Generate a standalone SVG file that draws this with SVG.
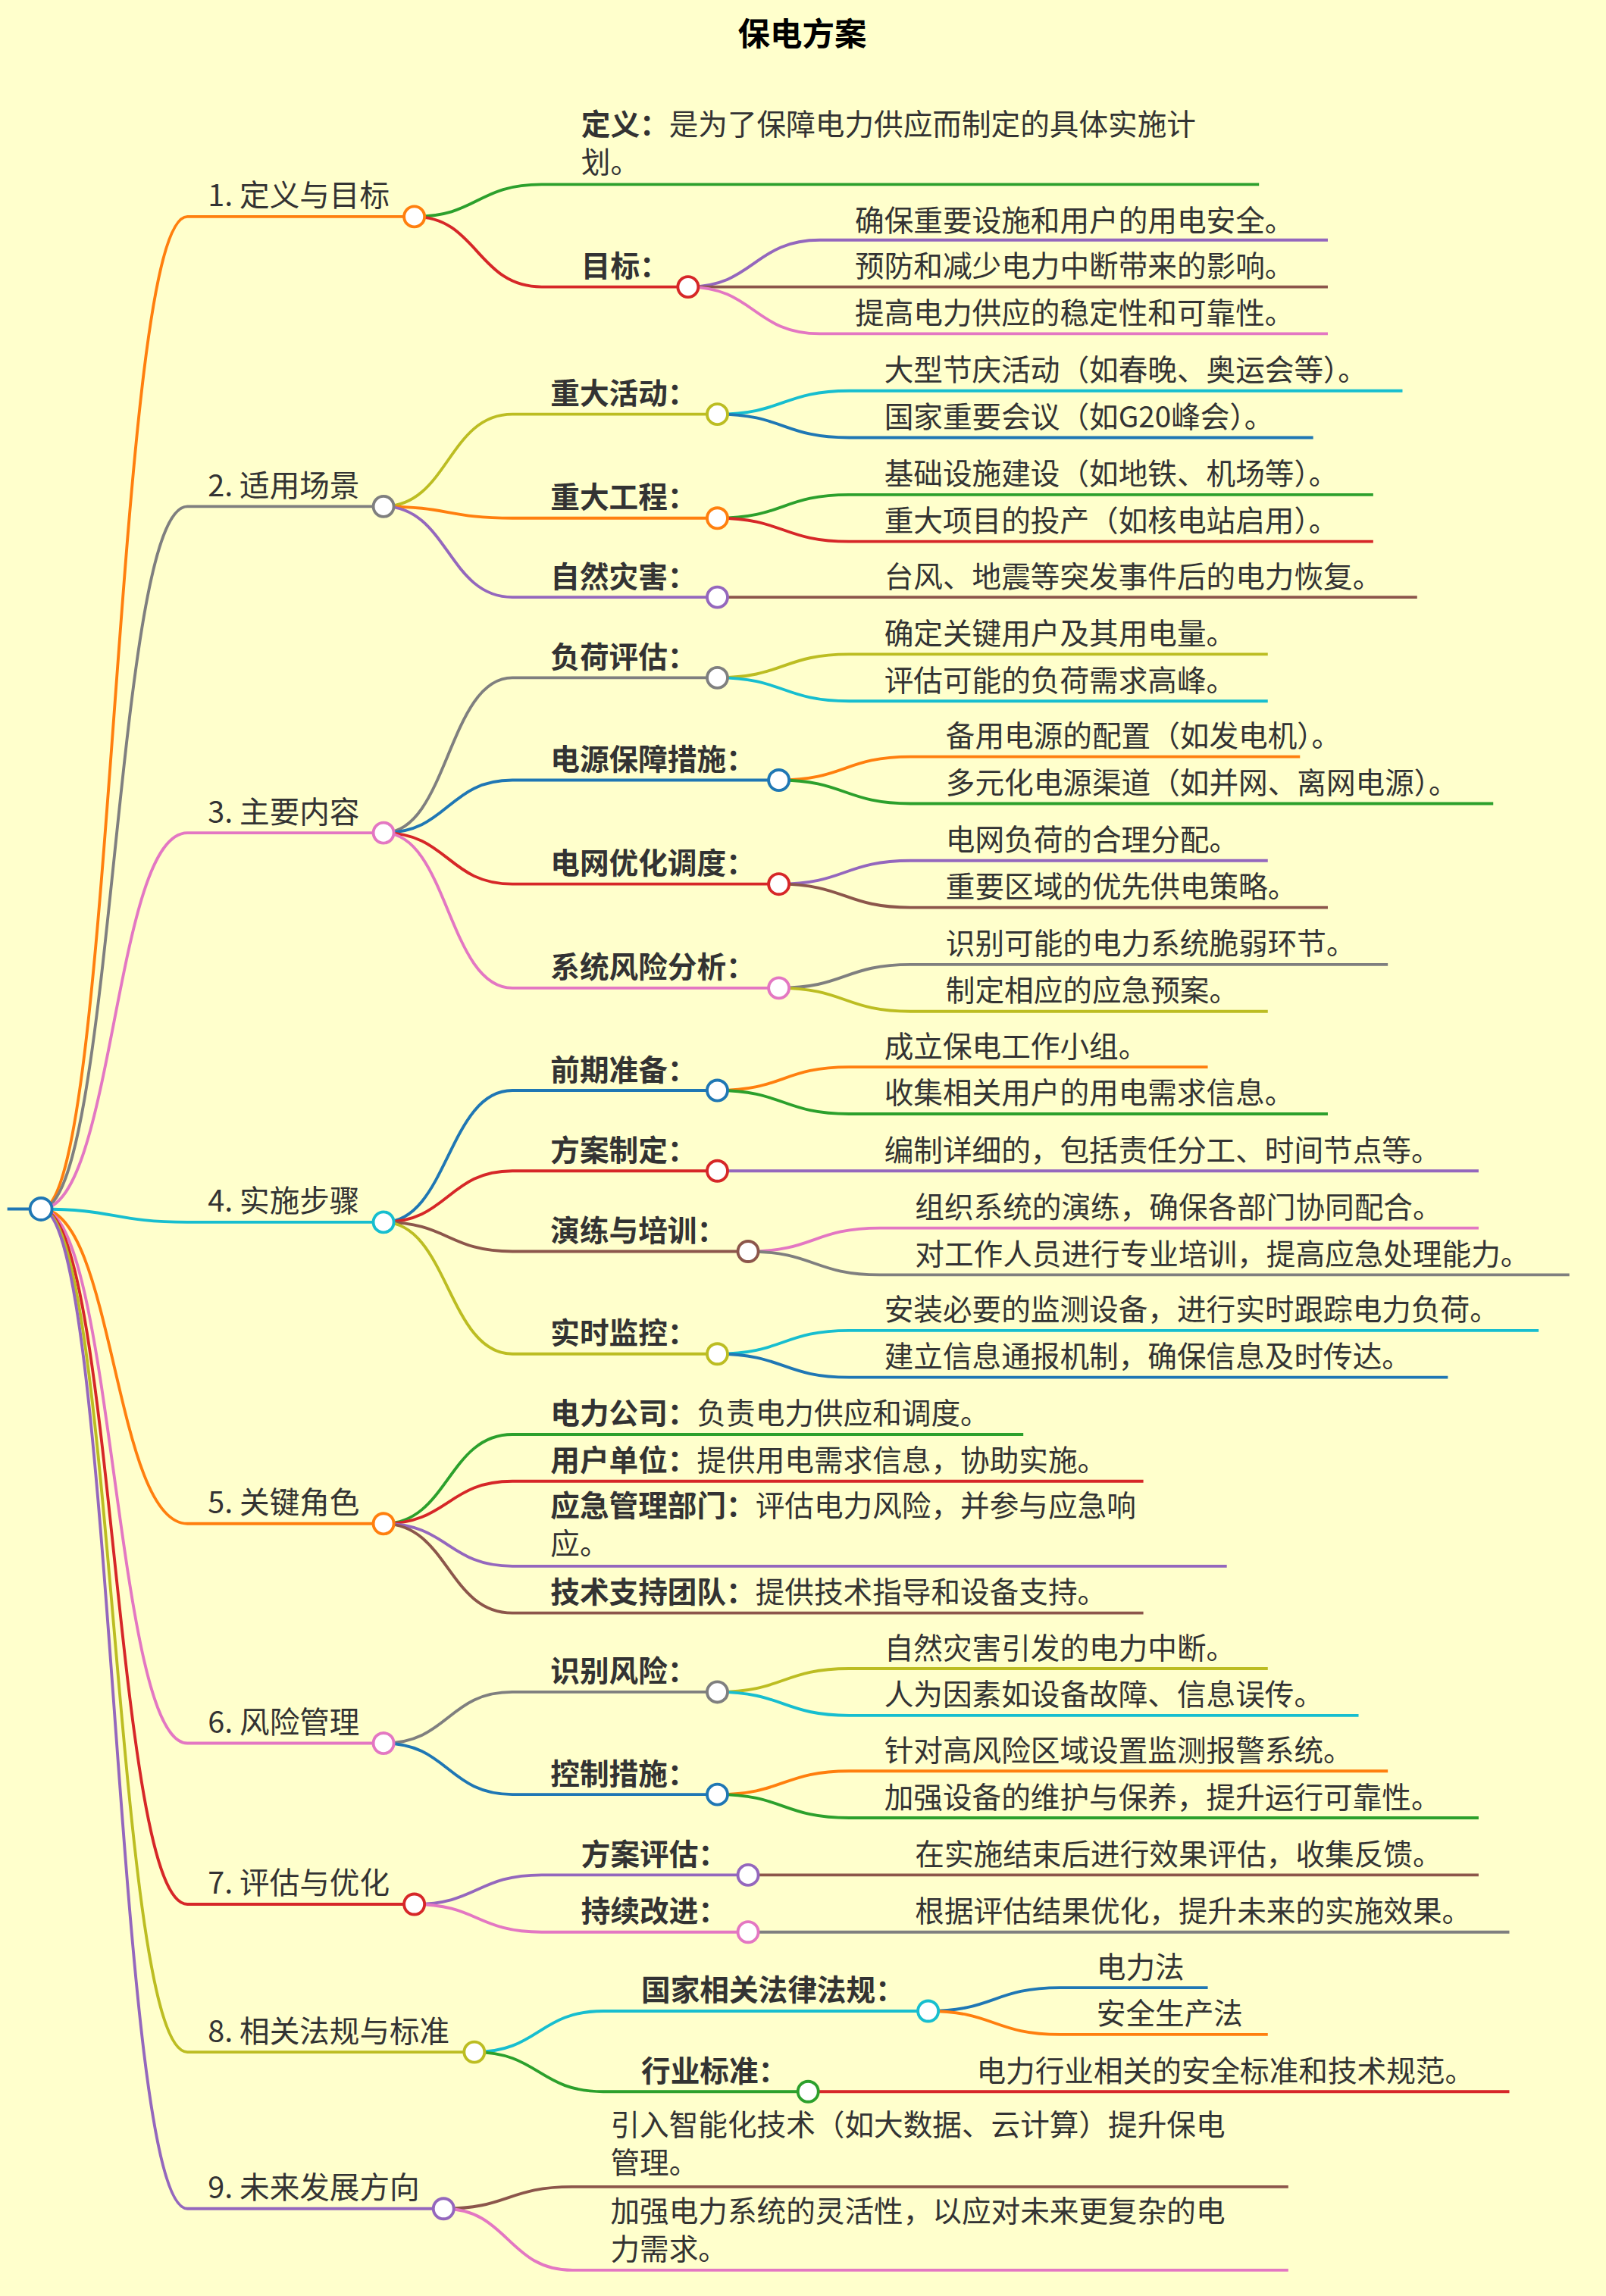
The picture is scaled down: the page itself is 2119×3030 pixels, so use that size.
<svg xmlns="http://www.w3.org/2000/svg" width="2119" height="3030" viewBox="0 0 2119 3030">
<style>
text{font-family:"Noto Sans CJK SC","Noto Sans",sans-serif;fill:#333;font-size:20px}
.t{font-size:22px;font-weight:bold;fill:#000}
.b{font-weight:bold}
.l{font-size:20.5px}
path{fill:none;stroke-width:2}
circle{fill:#fff;stroke-width:2}
</style>
<rect width="2119" height="3030" fill="#ffffcc"/>
<g transform="scale(1.9316)">
<text class="t" x="548" y="31" text-anchor="middle">保电方案</text>
<g id="connectors">
<path d="M5 826H28" stroke="#1f77b4" stroke-width="3"/>
<path d="M28 826C78 826 78 148 128 148H283" stroke="#ff7f0e"/>
<path d="M28 826C78 826 78 346 128 346H262" stroke="#7f7f7f"/>
<path d="M28 826C78 826 78 569 128 569H262" stroke="#e377c2"/>
<path d="M28 826C78 826 78 835 128 835H262" stroke="#17becf"/>
<path d="M28 826C78 826 78 1041 128 1041H262" stroke="#ff7f0e"/>
<path d="M28 826C78 826 78 1191 128 1191H262" stroke="#e377c2"/>
<path d="M28 826C78 826 78 1301 128 1301H283" stroke="#d62728"/>
<path d="M28 826C78 826 78 1402 128 1402H324" stroke="#bcbd22"/>
<path d="M28 826C78 826 78 1509 128 1509H303" stroke="#9467bd"/>
<path d="M283 148C326 148 326 126 370 126H860" stroke="#2ca02c"/>
<path d="M283 148C326 148 326 196 370 196H470" stroke="#d62728"/>
<path d="M470 196C515 196 515 164 560 164H907" stroke="#9467bd"/>
<path d="M470 196H907" stroke="#8c564b"/>
<path d="M470 196C515 196 515 228 560 228H907" stroke="#e377c2"/>
<path d="M262 346C306 346 306 283 350 283H490" stroke="#bcbd22"/>
<path d="M262 346C306 346 306 354 350 354H490" stroke="#ff7f0e"/>
<path d="M262 346C306 346 306 408 350 408H490" stroke="#9467bd"/>
<path d="M490 283C535 283 535 267 580 267H958" stroke="#17becf"/>
<path d="M490 283C535 283 535 299 580 299H897" stroke="#1f77b4"/>
<path d="M490 354C535 354 535 338 580 338H938" stroke="#2ca02c"/>
<path d="M490 354C535 354 535 370 580 370H938" stroke="#d62728"/>
<path d="M490 408H968" stroke="#8c564b"/>
<path d="M262 569C306 569 306 463 350 463H490" stroke="#7f7f7f"/>
<path d="M262 569C306 569 306 533 350 533H532" stroke="#1f77b4"/>
<path d="M262 569C306 569 306 604 350 604H532" stroke="#d62728"/>
<path d="M262 569C306 569 306 675 350 675H532" stroke="#e377c2"/>
<path d="M490 463C535 463 535 447 580 447H866" stroke="#bcbd22"/>
<path d="M490 463C535 463 535 479 580 479H866" stroke="#17becf"/>
<path d="M532 533C577 533 577 517 622 517H888" stroke="#ff7f0e"/>
<path d="M532 533C577 533 577 549 622 549H1020" stroke="#2ca02c"/>
<path d="M532 604C577 604 577 588 622 588H866" stroke="#9467bd"/>
<path d="M532 604C577 604 577 620 622 620H907" stroke="#8c564b"/>
<path d="M532 675C577 675 577 659 622 659H948" stroke="#7f7f7f"/>
<path d="M532 675C577 675 577 691 622 691H866" stroke="#bcbd22"/>
<path d="M262 835C306 835 306 745 350 745H490" stroke="#1f77b4"/>
<path d="M262 835C306 835 306 800 350 800H490" stroke="#d62728"/>
<path d="M262 835C306 835 306 855 350 855H511" stroke="#8c564b"/>
<path d="M262 835C306 835 306 925 350 925H490" stroke="#bcbd22"/>
<path d="M490 745C535 745 535 729 580 729H825" stroke="#ff7f0e"/>
<path d="M490 745C535 745 535 761 580 761H907" stroke="#2ca02c"/>
<path d="M490 800H1010" stroke="#9467bd"/>
<path d="M511 855C556 855 556 839 601 839H1010" stroke="#e377c2"/>
<path d="M511 855C556 855 556 871 601 871H1072" stroke="#7f7f7f"/>
<path d="M490 925C535 925 535 909 580 909H1051" stroke="#17becf"/>
<path d="M490 925C535 925 535 941 580 941H989" stroke="#1f77b4"/>
<path d="M262 1041C306 1041 306 980 350 980H699" stroke="#2ca02c"/>
<path d="M262 1041C306 1041 306 1012 350 1012H781" stroke="#d62728"/>
<path d="M262 1041C306 1041 306 1070 350 1070H838" stroke="#9467bd"/>
<path d="M262 1041C306 1041 306 1102 350 1102H781" stroke="#8c564b"/>
<path d="M262 1191C306 1191 306 1156 350 1156H490" stroke="#7f7f7f"/>
<path d="M262 1191C306 1191 306 1226 350 1226H490" stroke="#1f77b4"/>
<path d="M490 1156C535 1156 535 1140 580 1140H866" stroke="#bcbd22"/>
<path d="M490 1156C535 1156 535 1172 580 1172H928" stroke="#17becf"/>
<path d="M490 1226C535 1226 535 1210 580 1210H948" stroke="#ff7f0e"/>
<path d="M490 1226C535 1226 535 1242 580 1242H1010" stroke="#2ca02c"/>
<path d="M283 1301C326 1301 326 1281 370 1281H511" stroke="#9467bd"/>
<path d="M283 1301C326 1301 326 1320 370 1320H511" stroke="#e377c2"/>
<path d="M511 1281H1010" stroke="#8c564b"/>
<path d="M511 1320H1031" stroke="#7f7f7f"/>
<path d="M324 1402C368 1402 368 1374 412 1374H634" stroke="#17becf"/>
<path d="M324 1402C368 1402 368 1429 412 1429H552" stroke="#2ca02c"/>
<path d="M634 1374C679 1374 679 1358 724 1358H825" stroke="#1f77b4"/>
<path d="M634 1374C679 1374 679 1390 724 1390H866" stroke="#ff7f0e"/>
<path d="M552 1429H1031" stroke="#d62728"/>
<path d="M303 1509C347 1509 347 1494 391 1494H880" stroke="#8c564b"/>
<path d="M303 1509C347 1509 347 1551 391 1551H880" stroke="#e377c2"/>
</g>
<g id="nodes">
<g id="root"><circle cx="28" cy="826" r="7.5" stroke="#1f77b4"/></g>
<g id="n1"><text class="l" x="142" y="141">1. 定义与目标</text><circle cx="283" cy="148" r="7" stroke="#ff7f0e"/></g>
<g id="n1a"><text x="397" y="92"><tspan class="b">定义：</tspan>是为了保障电力供应而制定的具体实施计</text><text x="397" y="118">划。</text></g>
<g id="n1b"><text class="b" x="397" y="189">目标：</text><circle cx="470" cy="196" r="7" stroke="#d62728"/></g>
<text x="584" y="158">确保重要设施和用户的用电安全。</text>
<text x="584" y="189">预防和减少电力中断带来的影响。</text>
<text x="584" y="221">提高电力供应的稳定性和可靠性。</text>
<g id="n2"><text class="l" x="142" y="339">2. 适用场景</text><circle cx="262" cy="346" r="7" stroke="#7f7f7f"/></g>
<g><text class="b" x="376" y="276">重大活动：</text><circle cx="490" cy="283" r="7" stroke="#bcbd22"/></g>
<g><text class="b" x="376" y="347">重大工程：</text><circle cx="490" cy="354" r="7" stroke="#ff7f0e"/></g>
<g><text class="b" x="376" y="401">自然灾害：</text><circle cx="490" cy="408" r="7" stroke="#9467bd"/></g>
<text x="604" y="260">大型节庆活动（如春晚、奥运会等）。</text>
<text x="604" y="292">国家重要会议（如G20峰会）。</text>
<text x="604" y="331">基础设施建设（如地铁、机场等）。</text>
<text x="604" y="363">重大项目的投产（如核电站启用）。</text>
<text x="604" y="401">台风、地震等突发事件后的电力恢复。</text>
<g id="n3"><text class="l" x="142" y="562">3. 主要内容</text><circle cx="262" cy="569" r="7" stroke="#e377c2"/></g>
<g><text class="b" x="376" y="456">负荷评估：</text><circle cx="490" cy="463" r="7" stroke="#7f7f7f"/></g>
<g><text class="b" x="376" y="526">电源保障措施：</text><circle cx="532" cy="533" r="7" stroke="#1f77b4"/></g>
<g><text class="b" x="376" y="597">电网优化调度：</text><circle cx="532" cy="604" r="7" stroke="#d62728"/></g>
<g><text class="b" x="376" y="668">系统风险分析：</text><circle cx="532" cy="675" r="7" stroke="#e377c2"/></g>
<text x="604" y="440">确定关键用户及其用电量。</text>
<text x="604" y="472">评估可能的负荷需求高峰。</text>
<text x="646" y="510">备用电源的配置（如发电机）。</text>
<text x="646" y="542">多元化电源渠道（如并网、离网电源）。</text>
<text x="646" y="581">电网负荷的合理分配。</text>
<text x="646" y="613">重要区域的优先供电策略。</text>
<text x="646" y="652">识别可能的电力系统脆弱环节。</text>
<text x="646" y="684">制定相应的应急预案。</text>
<g id="n4"><text class="l" x="142" y="828">4. 实施步骤</text><circle cx="262" cy="835" r="7" stroke="#17becf"/></g>
<g><text class="b" x="376" y="738">前期准备：</text><circle cx="490" cy="745" r="7" stroke="#1f77b4"/></g>
<g><text class="b" x="376" y="793">方案制定：</text><circle cx="490" cy="800" r="7" stroke="#d62728"/></g>
<g><text class="b" x="376" y="848">演练与培训：</text><circle cx="511" cy="855" r="7" stroke="#8c564b"/></g>
<g><text class="b" x="376" y="918">实时监控：</text><circle cx="490" cy="925" r="7" stroke="#bcbd22"/></g>
<text x="604" y="722">成立保电工作小组。</text>
<text x="604" y="754">收集相关用户的用电需求信息。</text>
<text x="604" y="793">编制详细的，包括责任分工、时间节点等。</text>
<text x="625" y="832">组织系统的演练，确保各部门协同配合。</text>
<text x="625" y="864">对工作人员进行专业培训，提高应急处理能力。</text>
<text x="604" y="902">安装必要的监测设备，进行实时跟踪电力负荷。</text>
<text x="604" y="934">建立信息通报机制，确保信息及时传达。</text>
<g id="n5"><text class="l" x="142" y="1034">5. 关键角色</text><circle cx="262" cy="1041" r="7" stroke="#ff7f0e"/></g>
<text x="376" y="973"><tspan class="b">电力公司：</tspan>负责电力供应和调度。</text>
<text x="376" y="1005"><tspan class="b">用户单位：</tspan>提供用电需求信息，协助实施。</text>
<text x="376" y="1036"><tspan class="b">应急管理部门：</tspan>评估电力风险，并参与应急响</text>
<text x="376" y="1062">应。</text>
<text x="376" y="1095"><tspan class="b">技术支持团队：</tspan>提供技术指导和设备支持。</text>
<g id="n6"><text class="l" x="142" y="1184">6. 风险管理</text><circle cx="262" cy="1191" r="7" stroke="#e377c2"/></g>
<g><text class="b" x="376" y="1149">识别风险：</text><circle cx="490" cy="1156" r="7" stroke="#7f7f7f"/></g>
<g><text class="b" x="376" y="1219">控制措施：</text><circle cx="490" cy="1226" r="7" stroke="#1f77b4"/></g>
<text x="604" y="1133">自然灾害引发的电力中断。</text>
<text x="604" y="1165">人为因素如设备故障、信息误传。</text>
<text x="604" y="1203">针对高风险区域设置监测报警系统。</text>
<text x="604" y="1235">加强设备的维护与保养，提升运行可靠性。</text>
<g id="n7"><text class="l" x="142" y="1294">7. 评估与优化</text><circle cx="283" cy="1301" r="7" stroke="#d62728"/></g>
<g><text class="b" x="397" y="1274">方案评估：</text><circle cx="511" cy="1281" r="7" stroke="#9467bd"/></g>
<g><text class="b" x="397" y="1313">持续改进：</text><circle cx="511" cy="1320" r="7" stroke="#e377c2"/></g>
<text x="625" y="1274">在实施结束后进行效果评估，收集反馈。</text>
<text x="625" y="1313">根据评估结果优化，提升未来的实施效果。</text>
<g id="n8"><text class="l" x="142" y="1395">8. 相关法规与标准</text><circle cx="324" cy="1402" r="7" stroke="#bcbd22"/></g>
<g><text class="b" x="438" y="1367">国家相关法律法规：</text><circle cx="634" cy="1374" r="7" stroke="#17becf"/></g>
<g><text class="b" x="438" y="1422">行业标准：</text><circle cx="552" cy="1429" r="7" stroke="#2ca02c"/></g>
<text x="749" y="1351">电力法</text>
<text x="749" y="1383">安全生产法</text>
<text x="667" y="1422">电力行业相关的安全标准和技术规范。</text>
<g id="n9"><text class="l" x="142" y="1502">9. 未来发展方向</text><circle cx="303" cy="1509" r="7" stroke="#9467bd"/></g>
<text x="417" y="1459">引入智能化技术（如大数据、云计算）提升保电</text>
<text x="417" y="1485">管理。</text>
<text x="417" y="1518">加强电力系统的灵活性，以应对未来更复杂的电</text>
<text x="417" y="1544">力需求。</text>
</g>
</g>
</svg>
